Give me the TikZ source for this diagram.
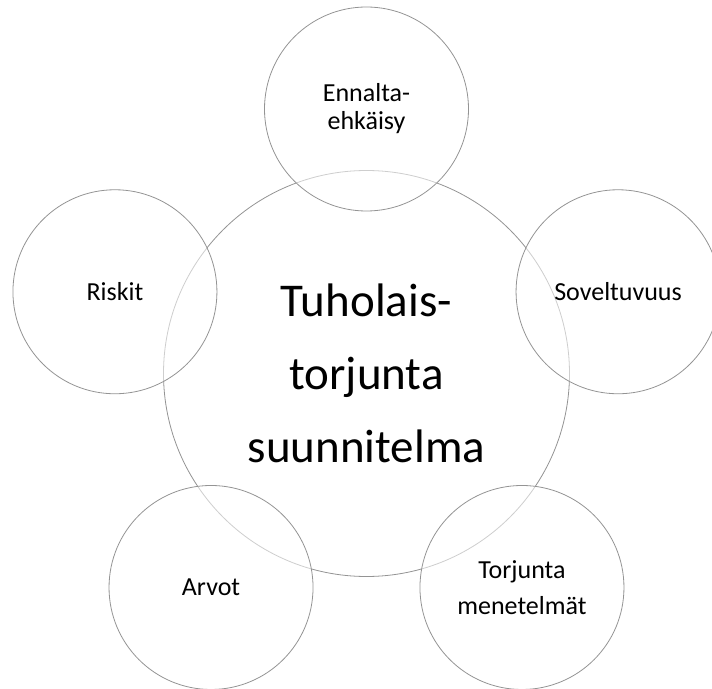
\documentclass[tikz,border=0pt]{standalone}
\usepackage{fontspec}
\setmainfont{Carlito}
\tikzset{
  ring/.style={circle, draw=black!42, line width=0.8pt, inner sep=0pt, align=center},
  hub/.style={ring, minimum size=406pt, fill=white, font=\fontsize{47}{73}\selectfont},
  leaf/.style={ring, minimum size=204pt, fill=white, fill opacity=0.55, text opacity=1,
    font=\fontsize{26}{28}\selectfont}
}
\begin{document}
\begin{tikzpicture}
  \useasboundingbox (-366.5pt,-314.5pt) rectangle (345.5pt,373.5pt);
  \draw (0,0) node[hub] (hub) {Tuholais-\\torjunta\\suunnitelma};
  \draw
    (90:264.5pt) node[leaf] (0) {Ennalta-\\ehkäisy}
    (18:264.5pt) node[leaf] (1) {Soveltuvuus}
    (-54:264.5pt) node[leaf] (2) {Torjunta\\[8pt]menetelmät}
    (-126:264.5pt) node[leaf] (3) {Arvot}
    (162:264.5pt) node[leaf] (4) {Riskit};
\end{tikzpicture}
\end{document}
